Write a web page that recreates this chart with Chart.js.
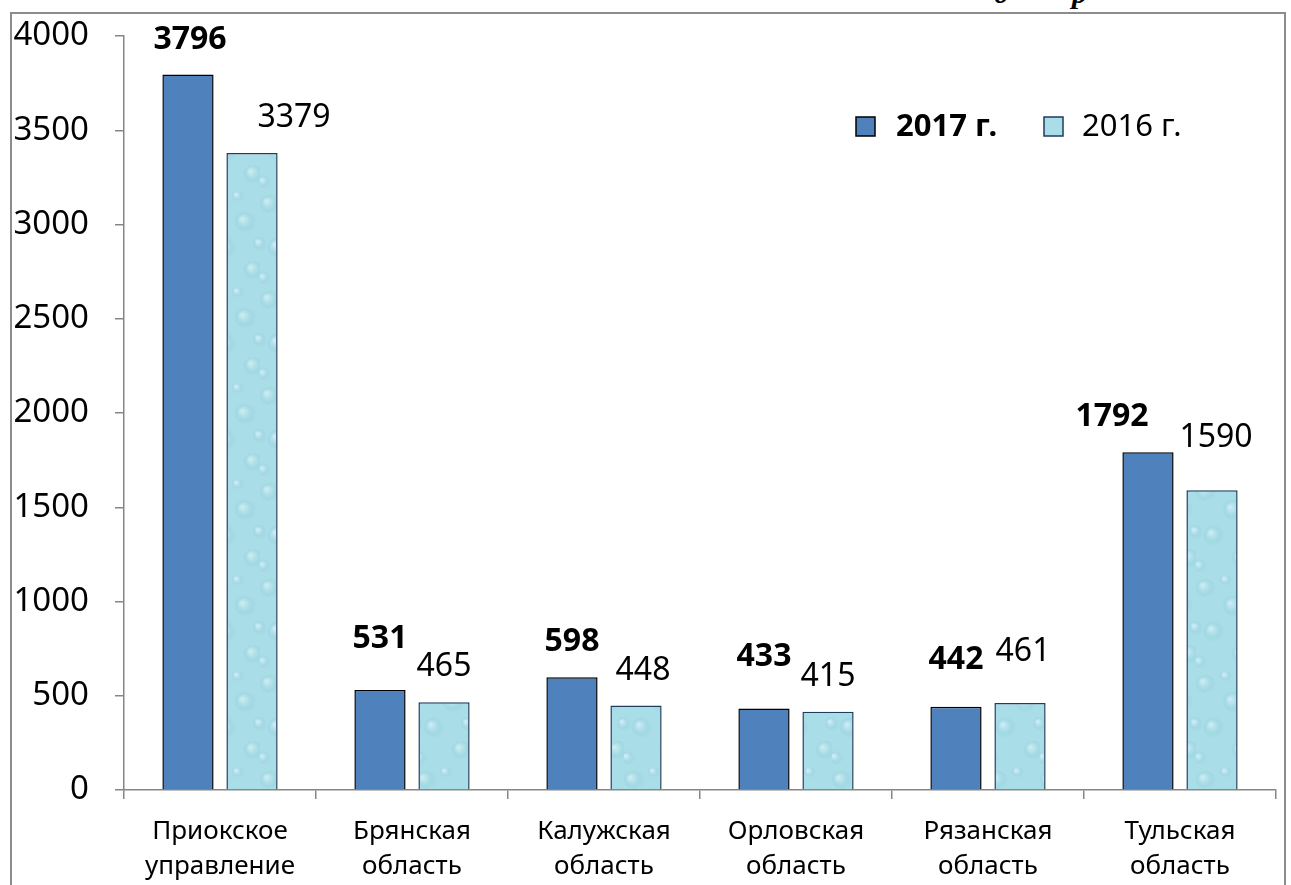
<!DOCTYPE html>
<html>
<head>
<meta charset="utf-8">
<script src="https://cdn.jsdelivr.net/npm/chart.js@4"></script>
<style>
  body { margin: 0; background: #fff; overflow: hidden; }
  #wrap { position: relative; width: 1291px; height: 885px; }
  #frame { position: absolute; left: 10px; top: 12px; width: 1276px; height: 900px; border: 2px solid #8c8c8c; box-sizing: border-box; }
  .cut { position: absolute; top: -24px; font: italic bold 30px "Liberation Serif", serif; color: #000; }
  canvas { position: absolute; left: 0; top: 0; }
</style>
</head>
<body>
<div id="wrap">
  <span class="cut" style="left:994px">д</span>
  <span class="cut" style="left:1072px">р</span>
  <div id="frame"></div>
  <canvas id="chart" width="1291" height="885"></canvas>
</div>
<script>
const categories = [
    ['Приокское', 'управление'],
    ['Брянская', 'область'],
    ['Калужская', 'область'],
    ['Орловская', 'область'],
    ['Рязанская', 'область'],
    ['Тульская', 'область']
];
const values2017 = [3796, 531, 598, 433, 442, 1792];
const values2016 = [3379, 465, 448, 415, 461, 1590];
const yTicks = [0, 500, 1000, 1500, 2000, 2500, 3000, 3500, 4000];

// label nudges (dx, dy) so the numbers sit like in the original
const shift2017 = [[2, 0], [0, -16], [0, 0], [0, -16], [0, -12], [-36, 0]];
const shift2016 = [[42, 0], [0, 0], [7, 0], [0, 0], [3, -16], [4, -17]];

document.addEventListener('DOMContentLoaded', function() {
    // soft water-drop texture for 2016
    const tile = document.createElement('canvas');
    tile.width = 52; tile.height = 96;
    const t = tile.getContext('2d');
    t.fillStyle = '#a9dde7';
    t.fillRect(0, 0, 52, 96);
    const drops = [[10, 12, 12, 9], [38, 30, 13, 10], [18, 56, 11, 12], [46, 78, 12, 9], [4, 86, 8, 7], [30, 4, 7, 5], [52, 52, 8, 8], [0, 52, 8, 8]];
    drops.forEach(function(d) {
        const rg = t.createRadialGradient(d[0] - d[2] * 0.3, d[1] - d[3] * 0.3, 1, d[0], d[1], Math.max(d[2], d[3]));
        rg.addColorStop(0, 'rgba(215, 242, 248, 0.7)');
        rg.addColorStop(0.6, 'rgba(150, 210, 222, 0.45)');
        rg.addColorStop(1, 'rgba(169, 221, 231, 0)');
        t.fillStyle = rg;
        t.beginPath();
        t.ellipse(d[0], d[1], d[2], d[3], 0, 0, Math.PI * 2);
        t.fill();
    });
    const ctx = document.getElementById('chart').getContext('2d');
    const pattern = ctx.createPattern(tile, 'repeat');

    const labelPlugin = {
        id: 'valueLabels',
        afterDatasetsDraw(chart) {
            const c = chart.ctx;
            c.save();
            c.fillStyle = '#000';
            c.textAlign = 'center';
            c.textBaseline = 'middle';
            chart.data.datasets.forEach(function(ds, i) {
                const meta = chart.getDatasetMeta(i);
                const shifts = i === 0 ? shift2017 : shift2016;
                c.font = (i === 0 ? 'bold ' : '') + '32px "Noto Sans"';
                meta.data.forEach(function(bar, j) {
                    c.fillText(String(ds.data[j]), bar.x + shifts[j][0], bar.y - 35 + shifts[j][1]);
                });
            });
            c.restore();
        }
    };

    const legendPlugin = {
        id: 'boxLegend',
        afterDraw(chart) {
            const c = chart.ctx;
            c.save();
            c.lineWidth = 1.5;
            c.fillStyle = '#4f81bd';
            c.fillRect(856, 117, 19, 19);
            c.strokeStyle = '#000';
            c.strokeRect(856, 117, 19, 19);
            c.fillStyle = pattern;
            c.fillRect(1044, 117, 19, 19);
            c.strokeStyle = '#1f3d5c';
            c.strokeRect(1044, 117, 19, 19);
            c.fillStyle = '#000';
            c.textBaseline = 'middle';
            c.font = 'bold 31px "Noto Sans"';
            c.fillText('2017 г.', 896, 127);
            c.font = '31px "Noto Sans"';
            c.fillText('2016 г.', 1082, 127);
            c.restore();
        }
    };

    new Chart(ctx, {
        type: 'bar',
        data: {
            labels: categories,
            datasets: [{
                label: '2017 г.',
                data: values2017,
                backgroundColor: '#4f81bd',
                borderColor: '#000000',
                borderWidth: 1.5,
                borderSkipped: 'bottom',
                categoryPercentage: 0.667,
                barPercentage: 0.8
            }, {
                label: '2016 г.',
                data: values2016,
                backgroundColor: pattern,
                borderColor: '#1f3d5c',
                borderWidth: 1.5,
                borderSkipped: 'bottom',
                categoryPercentage: 0.667,
                barPercentage: 0.8
            }]
        },
        options: {
            responsive: false,
            animation: false,
            layout: { autoPadding: false, padding: { left: 0, top: 36, right: 15, bottom: 0 } },
            plugins: {
                legend: { display: false },
                tooltip: { enabled: false }
            },
            scales: {
                x: {
                    grid: { drawOnChartArea: false, tickLength: 9, color: '#868686', lineWidth: 1.5, offset: true },
                    border: { color: '#868686', width: 1.5 },
                    ticks: { color: '#000', font: { family: 'Noto Sans', size: 26, lineHeight: 1.35 }, padding: 15, maxRotation: 0 },
                    afterFit: function(scale) { scale.height = 95; }
                },
                y: {
                    min: 0,
                    max: 4000,
                    afterBuildTicks: function(scale) { scale.ticks = yTicks.map(function(v) { return { value: v }; }); },
                    grid: { drawOnChartArea: false, tickLength: 9, color: '#868686', lineWidth: 1.5 },
                    border: { color: '#868686', width: 1.5 },
                    ticks: {
                        color: '#000',
                        font: { family: 'Noto Sans', size: 33, lineHeight: 0.5 },
                        padding: 26,
                        callback: function(v) { return String(v); }
                    },
                    afterFit: function(scale) { scale.width = 124; }
                }
            }
        },
        plugins: [labelPlugin, legendPlugin]
    });
});
</script>
</body>
</html>
